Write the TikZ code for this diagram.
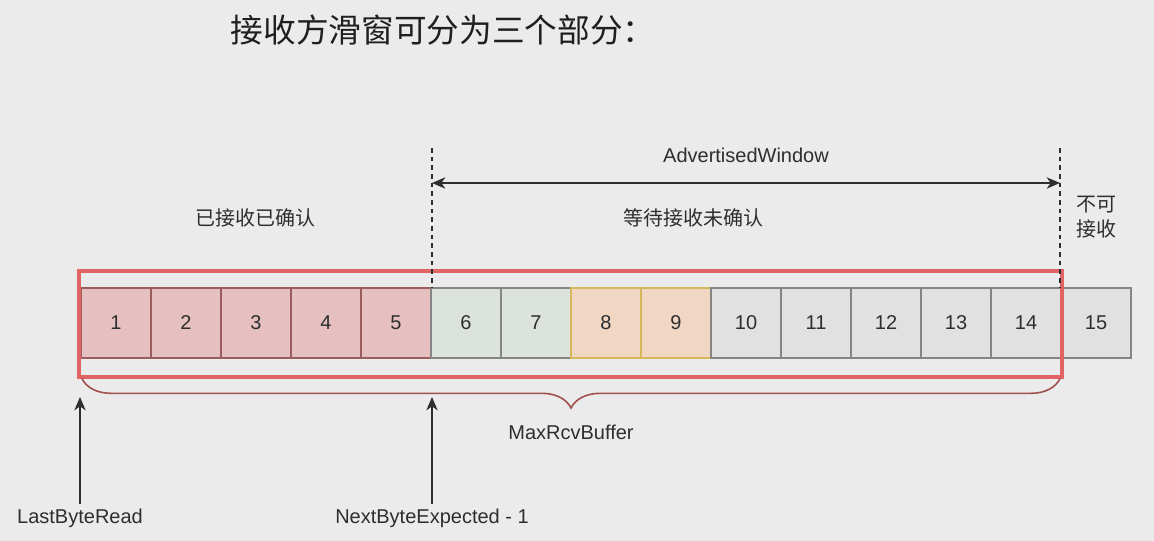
\documentclass[tikz,border=0pt]{standalone}
\usepackage{fontspec}
\setmainfont{Liberation Sans}
\newfontfamily\cjk{Noto Sans CJK SC}
\usetikzlibrary{arrows.meta}
\usetikzlibrary{decorations.pathreplacing}
\definecolor{bg}{HTML}{EBEBEB}
\definecolor{txt}{HTML}{2E2E2E}
\definecolor{redfill}{HTML}{E6C0C0}
\definecolor{redline}{HTML}{9A5C5C}
\definecolor{greenfill}{HTML}{DCE2DC}
\definecolor{orangefill}{HTML}{F1D6C4}
\definecolor{orangeline}{HTML}{D4B85A}
\definecolor{grayfill}{HTML}{E1E1E1}
\definecolor{grayline}{HTML}{858585}
\definecolor{winred}{HTML}{E06464}
\definecolor{braceline}{HTML}{A0504E}
\tikzset{l/.style={font=\fontsize{15}{15}\selectfont, text=txt}}
\tikzset{h/.style={font=\cjk\fontsize{24.5}{24.5}\selectfont, text=black!88}}
\tikzset{cl/.style={font=\cjk\fontsize{15}{19}\selectfont, text=txt}}
\tikzset{c/.style={draw, minimum size=52.5pt, inner sep=0pt, line width=0.8pt, l}}
\tikzset{cr/.style={c, fill=redfill, draw=redline}}
\tikzset{cg/.style={c, fill=greenfill, draw=grayline}}
\tikzset{co/.style={c, fill=orangefill, draw=orangeline}}
\tikzset{cw/.style={c, fill=grayfill, draw=grayline}}
\tikzset{d/.style={draw=txt, line width=1pt, dash pattern=on 3.5pt off 3pt}}
\tikzset{p/.style={txt, line width=1.1pt}}

\begin{document}
\begin{tikzpicture}[x=0.75pt,y=-0.75pt,>={Stealth[length=10pt,width=8.5pt,inset=3pt]}]
          \fill[bg] (0,0) rectangle (1154,541);
          \useasboundingbox (0,0) rectangle (1154,541);
          \node [h] (title) at (443,30) {接收方滑窗可分为三个部分：};
          % buffer cells
          \node [cr] (c1) at (116,323) {1};
          \node [cr] (c2) at (186,323) {2};
          \node [cr] (c3) at (256,323) {3};
          \node [cr] (c4) at (326,323) {4};
          \node [cr] (c5) at (396,323) {5};
          \node [cg] (c6) at (466,323) {6};
          \node [cg] (c7) at (536,323) {7};
          \node [co] (c8) at (606,323) {8};
          \node [co] (c9) at (676,323) {9};
          \node [cw] (c10) at (746,323) {10};
          \node [cw] (c11) at (816,323) {11};
          \node [cw] (c12) at (886,323) {12};
          \node [cw] (c13) at (956,323) {13};
          \node [cw] (c14) at (1026,323) {14};
          \node [cw] (c15) at (1096,323) {15};
          \draw [winred, line width=3.4pt] (79,271) rectangle (1062,377);
          % window limits
          \coordinate (w1top) at (432,148);
          \coordinate (w1bot) at (432,288);
          \coordinate (w2top) at (1060,148);
          \coordinate (w2bot) at (1060,288);
          \draw [d] (w1top) -- (w1bot);
          \draw [d] (w2top) -- (w2bot);
          \coordinate (awl) at (432,183);
          \coordinate (awr) at (1060,183);
          \draw [<->, p] (awl) -- (awr);
          \node [l] (aw) at (746,155) {AdvertisedWindow};
          \node [cl] (acked) at (255,218) {已接收已确认};
          \node [cl] (waiting) at (693,218) {等待接收未确认};
          \node [cl, align=center] (refused) at (1096,217) {不可\\接收};
          % buffer size
          \coordinate (bl) at (82,380);
          \coordinate (br) at (1060,380);
          \draw [braceline, line width=1.2pt, decorate,
            decoration={brace, mirror, amplitude=22pt, raise=-1pt}] (bl) -- (br);
          \node [l] (maxbuf) at (571,432) {MaxRcvBuffer};
          % pointers
          \coordinate (lbrtip) at (80,397);
          \coordinate (nbetip) at (432,397);
          \node [l] (lbr) at (80,518) {LastByteRead}
            edge [->, p] (lbrtip);
          \node [l] (nbe) at (432,518) {NextByteExpected - 1}
            edge [->, p] (nbetip);
        \end{tikzpicture}
\end{document}
